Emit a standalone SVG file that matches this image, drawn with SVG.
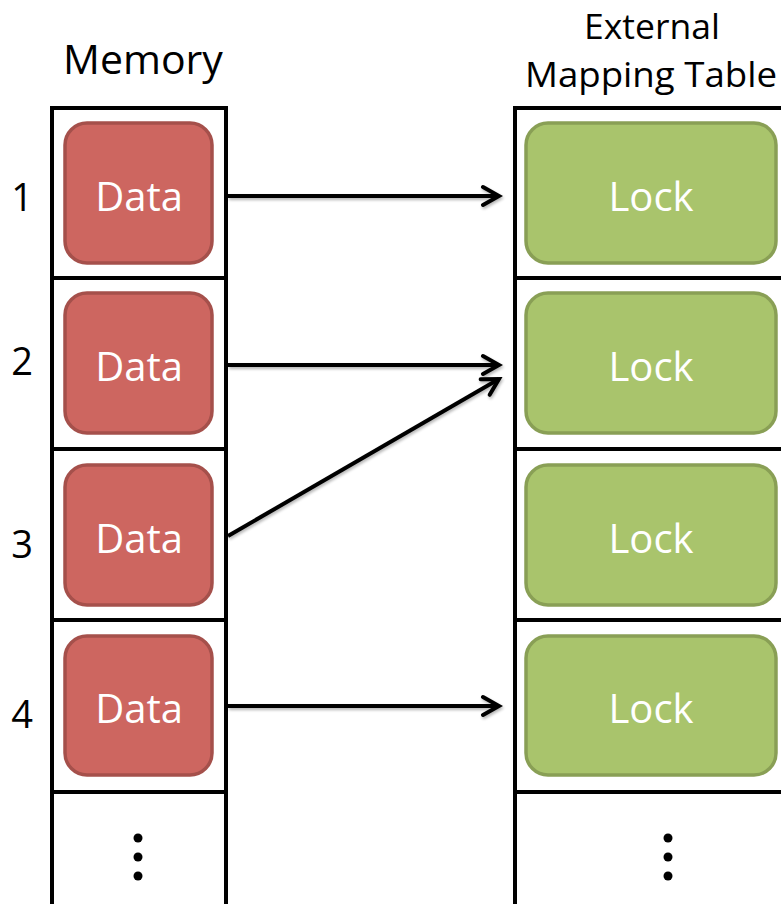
<svg xmlns="http://www.w3.org/2000/svg" width="781" height="904" viewBox="0 0 781 904">
  <defs>
    <style>
      .lbl { font-family: "Open Sans", "Liberation Sans", sans-serif; fill: #000; }
      .title { font-size: 35px; text-anchor: middle; }
      .num { font-size: 38px; text-anchor: middle; }
      .cell { fill: #fff; stroke: #000; stroke-width: 4; }
      .data rect { fill: #CD6660; stroke: #A5504B; stroke-width: 3.5; }
      .lock rect { fill: #A9C46C; stroke: #899F55; stroke-width: 3.5; }
      .inner { font-family: "Open Sans", "Liberation Sans", sans-serif; font-size: 40px; fill: #fff; text-anchor: middle; }
      .conn { stroke: #000; stroke-width: 4; fill: none; marker-end: url(#head); filter: url(#shade); }
      .dot { fill: #000; }
    </style>
    <marker id="head" viewBox="0 0 12 12" refX="10" refY="6" markerWidth="6" markerHeight="6" orient="auto" markerUnits="strokeWidth">
      <path d="M2,1.5 L10,6 L2,10.5" fill="none" stroke="#000" stroke-width="2" stroke-linecap="round" stroke-linejoin="miter"/>
    </marker>
    <filter id="shade" filterUnits="userSpaceOnUse" x="0" y="0" width="781" height="904">
      <feGaussianBlur in="SourceAlpha" stdDeviation="1.5"/>
      <feOffset dx="1" dy="2" result="b"/>
      <feComponentTransfer><feFuncA type="linear" slope="0.3"/></feComponentTransfer>
      <feMerge><feMergeNode/><feMergeNode in="SourceGraphic"/></feMerge>
    </filter>
  </defs>

  <rect width="781" height="904" fill="#fff"/>

  <!-- column headings -->
  <text class="lbl title" x="143" y="74" style="font-size:41px">Memory</text>
  <text class="lbl title" x="652" y="39" textLength="136" lengthAdjust="spacingAndGlyphs">External</text>
  <text class="lbl title" x="651" y="87" textLength="252" lengthAdjust="spacingAndGlyphs">Mapping Table</text>

  <!-- memory column -->
  <g id="memory">
    <rect class="cell" x="52" y="108" width="174" height="170"/>
    <rect class="cell" x="52" y="278" width="174" height="171"/>
    <rect class="cell" x="52" y="449" width="174" height="171"/>
    <rect class="cell" x="52" y="620" width="174" height="172"/>
    <rect class="cell" x="52" y="792" width="174" height="120"/>
  </g>

  <!-- mapping table column -->
  <g id="table">
    <rect class="cell" x="515" y="108" width="280" height="170"/>
    <rect class="cell" x="515" y="278" width="280" height="171"/>
    <rect class="cell" x="515" y="449" width="280" height="171"/>
    <rect class="cell" x="515" y="620" width="280" height="172"/>
    <rect class="cell" x="515" y="792" width="280" height="120"/>
  </g>

  <!-- row numbers -->
  <text class="lbl num" x="22" y="211">1</text>
  <text class="lbl num" x="22" y="375">2</text>
  <text class="lbl num" x="22" y="558">3</text>
  <text class="lbl num" x="22" y="728">4</text>

  <!-- data blocks -->
  <g id="data1" class="data"><rect x="65" y="123" width="147" height="140" rx="22"/><text class="inner" x="139" y="211">Data</text></g>
  <g id="data2" class="data"><rect x="65" y="293" width="147" height="140" rx="22"/><text class="inner" x="139" y="381">Data</text></g>
  <g id="data3" class="data"><rect x="65" y="465" width="147" height="140" rx="22"/><text class="inner" x="139" y="553">Data</text></g>
  <g id="data4" class="data"><rect x="65" y="636" width="147" height="139" rx="22"/><text class="inner" x="139" y="723">Data</text></g>

  <!-- lock entries -->
  <g id="lock1" class="lock"><rect x="526" y="123" width="250" height="140" rx="22"/><text class="inner" x="651" y="211">Lock</text></g>
  <g id="lock2" class="lock"><rect x="526" y="293" width="250" height="140" rx="22"/><text class="inner" x="651" y="381">Lock</text></g>
  <g id="lock3" class="lock"><rect x="526" y="465" width="250" height="140" rx="22"/><text class="inner" x="651" y="553">Lock</text></g>
  <g id="lock4" class="lock"><rect x="526" y="636" width="250" height="139" rx="22"/><text class="inner" x="651" y="723">Lock</text></g>

  <!-- continuation marks -->
  <g id="more-memory">
    <circle class="dot" cx="138" cy="838" r="4.5"/>
    <circle class="dot" cx="138" cy="857" r="4.5"/>
    <circle class="dot" cx="138" cy="876" r="4.5"/>
  </g>
  <g id="more-table">
    <circle class="dot" cx="668" cy="838" r="4.5"/>
    <circle class="dot" cx="668" cy="857" r="4.5"/>
    <circle class="dot" cx="668" cy="876" r="4.5"/>
  </g>

  <!-- connectors -->
  <g id="connectors">
    <line class="conn" x1="228" y1="196" x2="499" y2="196"/>
    <line class="conn" x1="228" y1="365" x2="499" y2="365"/>
    <line class="conn" x1="228" y1="536" x2="499" y2="379"/>
    <line class="conn" x1="228" y1="706" x2="499" y2="706"/>
  </g>
</svg>
